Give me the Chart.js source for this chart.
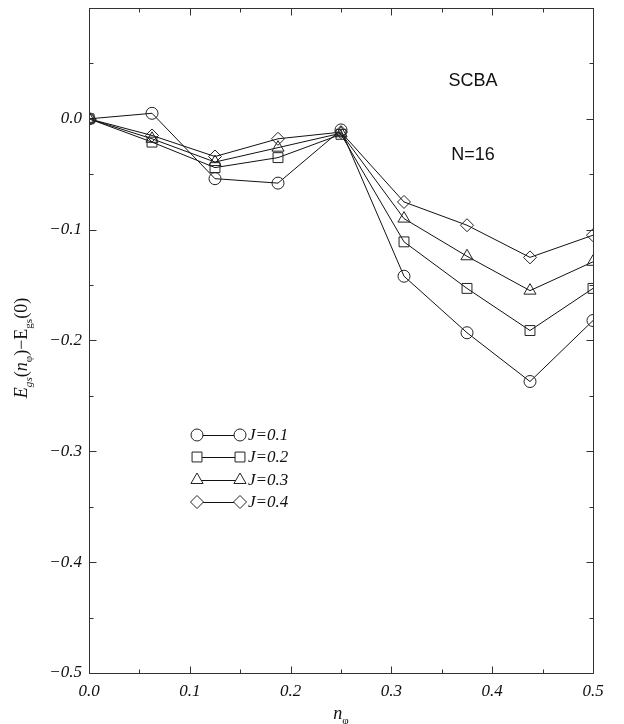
<!DOCTYPE html>
<html>
<head>
<meta charset="utf-8">
<script src="https://cdn.jsdelivr.net/npm/chart.js@4.4.1/dist/chart.umd.min.js"></script>
<style>
  html, body { margin: 0; padding: 0; background: #fff; }
  #wrap { width: 624px; height: 724px; position: relative; }
</style>
</head>
<body>
<div id="wrap"><canvas id="myChart"></canvas></div>
<script>
// n_phi = k/16
const nPhi = [0, 0.0625, 0.125, 0.1875, 0.25, 0.3125, 0.375, 0.4375, 0.5];
const j01 = [0, 0.005, -0.054, -0.058, -0.010, -0.142, -0.193, -0.237, -0.182];
const j02 = [0, -0.021, -0.044, -0.035, -0.014, -0.111, -0.153, -0.191, -0.153];
const j03 = [0, -0.018, -0.039, -0.026, -0.013, -0.090, -0.124, -0.155, -0.129];
const j04 = [0, -0.015, -0.034, -0.018, -0.012, -0.075, -0.096, -0.125, -0.105];
const seriesLabels = ["J=0.1", "J=0.2", "J=0.3", "J=0.4"];
const xTicks = [0, 0.1, 0.2, 0.3, 0.4, 0.5];
const yTicks = [-0.5, -0.4, -0.3, -0.2, -0.1, 0.0];

const serif = "'Liberation Serif', 'DejaVu Serif', serif";
const sans = "'Liberation Sans', Arial, sans-serif";

function pts(ys) {
  return nPhi.map((x, i) => ({ x: x, y: ys[i] }));
}

function ds(label, ys, style, r) {
  return {
    label: label,
    data: pts(ys),
    borderColor: "#111",
    borderWidth: 1,
    pointStyle: style,
    pointRadius: r,
    pointHoverRadius: r,
    pointBorderColor: "#222",
    pointBorderWidth: 1,
    pointBackgroundColor: "rgba(0,0,0,0)",
    fill: false,
    tension: 0,
  };
}

// draws text pieces: [text, italic, sub]
function drawRich(ctx, parts, x, y, size) {
  let total = 0;
  const measured = parts.map(p => {
    const fs = p[2] ? size * 0.62 : size;
    ctx.font = (p[1] ? "italic " : "") + fs + "px " + serif;
    const w = ctx.measureText(p[0]).width;
    total += w;
    return { t: p[0], font: ctx.font, w: w, sub: p[2] };
  });
  let cx = x - total / 2;
  ctx.textAlign = "left";
  ctx.textBaseline = "alphabetic";
  measured.forEach(m => {
    ctx.font = m.font;
    ctx.fillText(m.t, cx, y + (m.sub ? size * 0.3 : 0));
    cx += m.w;
  });
}

const decor = {
  id: "decor",
  afterDraw(chart) {
    const { ctx, chartArea: a, scales } = chart;
    const xs = scales.x, ys = scales.y;
    ctx.save();
    ctx.strokeStyle = "#333";
    ctx.lineWidth = 1;
    const L = Math.round(a.left) + 0.5, R = Math.round(a.right) + 0.5;
    const T = Math.round(a.top) + 0.5, B = Math.round(a.bottom) + 0.5;
    ctx.strokeRect(L, T, R - L, B - T);
    // inward ticks
    ctx.beginPath();
    for (let i = 0; i <= 10; i++) {
      const px = Math.round(xs.getPixelForValue(i * 0.05)) + 0.5;
      const len = i % 2 === 0 ? 7 : 4;
      ctx.moveTo(px, B); ctx.lineTo(px, B - len);
      ctx.moveTo(px, T); ctx.lineTo(px, T + len);
    }
    for (let i = 0; i <= 12; i++) {
      const py = Math.round(ys.getPixelForValue(-0.5 + i * 0.05)) + 0.5;
      const len = i % 2 === 0 ? 7 : 4;
      ctx.moveTo(L, py); ctx.lineTo(L + len, py);
      ctx.moveTo(R, py); ctx.lineTo(R - len, py);
    }
    ctx.stroke();

    // annotations
    ctx.fillStyle = "#111";
    ctx.font = "18px " + sans;
    ctx.textAlign = "center";
    ctx.textBaseline = "middle";
    ctx.fillText("SCBA", 473, 81);
    ctx.fillText("N=16", 473, 155);

    // legend
    const rowsY = [435, 457, 480, 502];
    chart.data.datasets.forEach((d, i) => {
      const y = rowsY[i];
      ctx.beginPath();
      ctx.strokeStyle = "#111";
      ctx.lineWidth = 1;
      ctx.moveTo(197, y + 0.5); ctx.lineTo(240, y + 0.5);
      ctx.stroke();
      ctx.strokeStyle = "#222";
      ctx.fillStyle = "#fff";
      const opt = { pointStyle: d.pointStyle, radius: d.pointRadius, rotation: 0, borderWidth: 1 };
      Chart.helpers.drawPoint(ctx, opt, 197, y);
      Chart.helpers.drawPoint(ctx, opt, 240, y);
      ctx.fillStyle = "#111";
      ctx.font = "italic 17px " + serif;
      ctx.textAlign = "left";
      ctx.textBaseline = "middle";
      ctx.fillText(d.label, 248, y + 1);
    });

    // axis titles
    ctx.fillStyle = "#111";
    drawRich(ctx, [["n", true, false], ["\u03c6", false, true]], 341, 719, 18);
    ctx.save();
    ctx.translate(27, 348);
    ctx.rotate(-Math.PI / 2);
    drawRich(ctx, [
      ["E", true, false], ["gs", true, true], ["(", false, false], ["n", true, false],
      ["\u03c6", false, true], [")\u2212E", false, false], ["gs", false, true], ["(0)", false, false]
    ], 0, 0, 18);
    ctx.restore();
    ctx.restore();
  }
};

const ctx = document.getElementById("myChart").getContext("2d");
new Chart(ctx, {
  type: "line",
  data: {
    datasets: [
      ds(seriesLabels[0], j01, "circle", 6),
      ds(seriesLabels[1], j02, "rect", 7),
      ds(seriesLabels[2], j03, "triangle", 7),
      ds(seriesLabels[3], j04, "rectRot", 6.5),
    ],
  },
  options: {
    responsive: true,
    maintainAspectRatio: false,
    animation: false,
    layout: { padding: { left: 0, right: 31, top: 8, bottom: 0 } },
    plugins: { legend: { display: false }, tooltip: { enabled: false } },
    scales: {
      x: {
        type: "linear",
        min: 0, max: 0.5,
        afterFit(s) { s.height = 51; s.paddingLeft = 0; s.paddingRight = 0; },
        afterBuildTicks(s) { s.ticks = xTicks.map(v => ({ value: v })); },
        grid: { display: false, drawTicks: false },
        border: { display: false },
        ticks: {
          padding: 8,
          color: "#111",
          font: { family: serif, style: "italic", size: 17 },
          callback: v => v.toFixed(1),
        },
      },
      y: {
        type: "linear",
        min: -0.5, max: 0.1,
        afterFit(s) { s.width = 89; s.paddingTop = 0; s.paddingBottom = 0; },
        afterBuildTicks(s) { s.ticks = yTicks.map(v => ({ value: v })); },
        grid: { display: false, drawTicks: false },
        border: { display: false },
        ticks: {
          padding: 7,
          color: "#111",
          font: { family: serif, style: "italic", size: 17 },
          callback: v => (v < 0 ? "\u2212" : "") + Math.abs(v).toFixed(1),
        },
      },
    },
  },
  plugins: [decor],
});
</script>
</body>
</html>
